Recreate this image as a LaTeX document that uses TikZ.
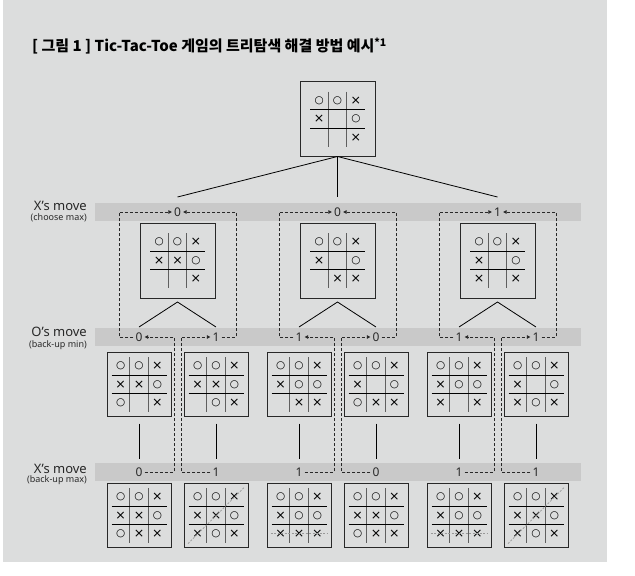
\documentclass[tikz,border=0pt]{standalone}
\usepackage{fontspec}
\setmainfont{Noto Sans}
\newfontfamily\krfont{Noto Sans CJK KR}
\newfontfamily\symfont{DejaVu Sans}
\usetikzlibrary{arrows.meta,calc}

\definecolor{bg}{RGB}{220,221,221}
\definecolor{bandc}{RGB}{201,201,201}
\definecolor{ink}{RGB}{40,40,40}
\definecolor{gridc}{RGB}{95,95,95}

\tikzset{
  boardbox/.style={draw=ink, line width=0.9pt, minimum size=#1, inner sep=0pt, outer sep=0pt},
  gridh/.style={draw=black, line width=0.8pt},
  gridv/.style={draw=gridc, line width=1.3pt},
  markO/.style={font=\symfont\fontsize{10.5}{10.5}\selectfont, inner sep=0pt, text=black},
  markX/.style={font=\symfont\fontsize{12.5}{12.5}\selectfont, inner sep=0pt, text=black},
  val/.style={font=\fontsize{12}{12}\selectfont, text=ink, inner sep=2pt},
  dsh/.style={draw=ink, line width=0.8pt, dash pattern=on 3pt off 2pt},
  tip/.style={-{Triangle[length=3.5pt,width=3.5pt]}},
  conn/.style={draw=black, line width=0.8pt},
  winl/.style={draw=black!40, line width=0.7pt, dash pattern=on 2pt off 1.5pt},
  lbl/.style={font=\fontsize{13}{13}\selectfont, text=ink, anchor=east, inner sep=0pt},
  sublbl/.style={font=\fontsize{9}{9}\selectfont, text=ink, anchor=east, inner sep=0pt},
}

\def\mkOname{O}
\def\mkXname{X}
\newcommand\tttboard[5]{%
  \node[boardbox=#4pt] (#1) at (#2,#3) {};
  \begin{scope}[shift={(#1.center)}]
    \draw[gridv] (-9.17,-27.5) -- (-9.17,27.5) (9.17,-27.5) -- (9.17,27.5);
    \draw[gridh] (-27.5,-9.17) -- (27.5,-9.17) (-27.5,9.17) -- (27.5,9.17);
    \foreach \m [count=\i from 0] in {#5} {
      \pgfmathtruncatemacro\cc{mod(\i,3)}
      \pgfmathtruncatemacro\rr{floor(\i/3)}
      \edef\cur{\m}
      \ifx\cur\mkOname \node[markO] (#1-\i) at ({(\cc-1)*18.33},{(\rr-1)*18.33}) {○}; \fi
      \ifx\cur\mkXname \node[markX] (#1-\i) at ({(\cc-1)*18.33},{(\rr-1)*18.33}) {×}; \fi
    }
  \end{scope}
}

\begin{document}
\begin{tikzpicture}[x=1pt,y=-1pt]
\useasboundingbox (0,0) rectangle (635,576);
\fill[white] (0,0) rectangle (635,576);
\fill[bg] (3,0) rectangle (607,562);

% title
\node[anchor=west, inner sep=0pt, text=black, font=\krfont\bfseries\fontsize{15}{15}\selectfont] (title) at (32,46)
  {[ 그림 1 ] Tic-Tac-Toe 게임의 트리탐색 해결 방법 예시\raisebox{0.3em}{\fontsize{10.5}{10.5}\selectfont *1}};

% bands
\fill[bandc] (95,203) rectangle (581,221);
\fill[bandc] (95,328) rectangle (581,346);
\fill[bandc] (95,463) rectangle (581,481);

% band labels
\node[lbl] (lx1) at (87,205.5) {X’s move};
\node[sublbl] (sx1) at (87,217.5) {(choose max)};
\node[lbl] (lo1) at (87,332) {O’s move};
\node[sublbl] (so1) at (87,345.5) {(back-up min)};
\node[lbl] (lx2) at (87,468.5) {X’s move};
\node[sublbl] (sx2) at (87,480) {(back-up max)};

% boards
\tttboard{t0}{337.5}{119}{75}{O,O,X,X,N,O,N,N,X}
\tttboard{a1}{177.5}{260.5}{75}{O,O,X,X,X,O,N,N,X}
\tttboard{a2}{337.5}{260.5}{75}{O,O,X,X,N,O,N,X,X}
\tttboard{a3}{497.5}{260.5}{75}{O,O,X,X,N,O,X,N,X}

\tttboard{c1}{139}{384.5}{64}{O,O,X,X,X,O,O,N,X}
\tttboard{c2}{216}{384.5}{64}{O,O,X,X,X,O,N,O,X}
\tttboard{c3}{299}{384.5}{64}{O,O,X,X,O,O,N,X,X}
\tttboard{c4}{376}{384.5}{64}{O,O,X,X,N,O,O,X,X}
\tttboard{c5}{459}{384.5}{64}{O,O,X,X,O,O,X,N,X}
\tttboard{c6}{536}{384.5}{64}{O,O,X,X,N,O,X,O,X}

\tttboard{d1}{139}{515.5}{64}{O,O,X,X,X,O,O,X,X}
\tttboard{d2}{216}{515.5}{64}{O,O,X,X,X,O,X,O,X}
\tttboard{d3}{299}{515.5}{64}{O,O,X,X,O,O,X,X,X}
\tttboard{d4}{376}{515.5}{64}{O,O,X,X,X,O,O,X,X}
\tttboard{d5}{459}{515.5}{64}{O,O,X,X,O,O,X,X,X}
\tttboard{d6}{536}{515.5}{64}{O,O,X,X,X,O,X,O,X}

% winning lines
\draw[winl] ([shift={(-28,28)}]d2.center) -- ([shift={(28,-28)}]d2.center);
\draw[winl] ([shift={(-28,28)}]d6.center) -- ([shift={(28,-28)}]d6.center);
\draw[winl] ([shift={(-28.5,18.33)}]d3.center) -- ([shift={(28.5,18.33)}]d3.center);
\draw[winl] ([shift={(-28.5,18.33)}]d5.center) -- ([shift={(28.5,18.33)}]d5.center);

% connectors from root
\coordinate (e1) at (177.5,197);
\coordinate (e2) at (337.5,197);
\coordinate (e3) at (497.5,197);
\draw[conn] (t0.south) -- (e1);
\draw[conn] (t0.south) -- (e2);
\draw[conn] (t0.south) -- (e3);

% level-2 to level-3
\foreach \p/\l/\r in {a1/139/216, a2/299/376, a3/459/536}{
  \coordinate (\p-apex) at ([yshift=-4pt]\p.south);
  \coordinate (\p-fl) at (\l,327);
  \coordinate (\p-fr) at (\r,327);
  \draw[conn] (\p-fl) -- (\p-apex) -- (\p-fr);
}

% level-3 to leaves
\foreach \c/\d in {c1/d1, c2/d2, c3/d3, c4/d4, c5/d5, c6/d6}{
  \coordinate (\c-lo) at ([yshift=-7pt]\c.south);
  \coordinate (\c-hi) at ([yshift=24.5pt]\d.north);
  \draw[conn] (\c-lo) -- (\c-hi);
}

% values
\node[val] (t1v) at (177.5,212) {0};
\node[val] (t2v) at (337.5,212) {0};
\node[val] (t3v) at (497.5,212) {1};

\node[val] (o11) at (139,337) {0};
\node[val] (o12) at (216,337) {1};
\node[val] (o21) at (299,337) {1};
\node[val] (o22) at (376,337) {0};
\node[val] (o31) at (459,337) {1};
\node[val] (o32) at (536,337) {1};

\node[val] (l11) at (139,472) {0};
\node[val] (l12) at (216,472) {1};
\node[val] (l21) at (299,472) {1};
\node[val] (l22) at (376,472) {0};
\node[val] (l31) at (459,472) {1};
\node[val] (l32) at (536,472) {1};

% dashed back-up paths
\foreach \k/\cx in {1/177.5, 2/337.5, 3/497.5}{
  \coordinate (rl\k) at ({\cx-58.5},212);
  \coordinate (rr\k) at ({\cx+58.5},212);
  \coordinate (jl\k) at ({\cx-3.5},337);
  \coordinate (jr\k) at ({\cx+3.5},337);
  \draw[dsh,tip] (o\k1.west) -| (rl\k) -- (t\k v.west);
  \draw[dsh,tip] (o\k2.east) -| (rr\k) -- (t\k v.east);
  \draw[dsh,tip] (l\k1.east) -| (jl\k) -- (o\k1.east);
  \draw[dsh,tip] (l\k2.west) -| (jr\k) -- (o\k2.west);
}
\end{tikzpicture}
\end{document}
